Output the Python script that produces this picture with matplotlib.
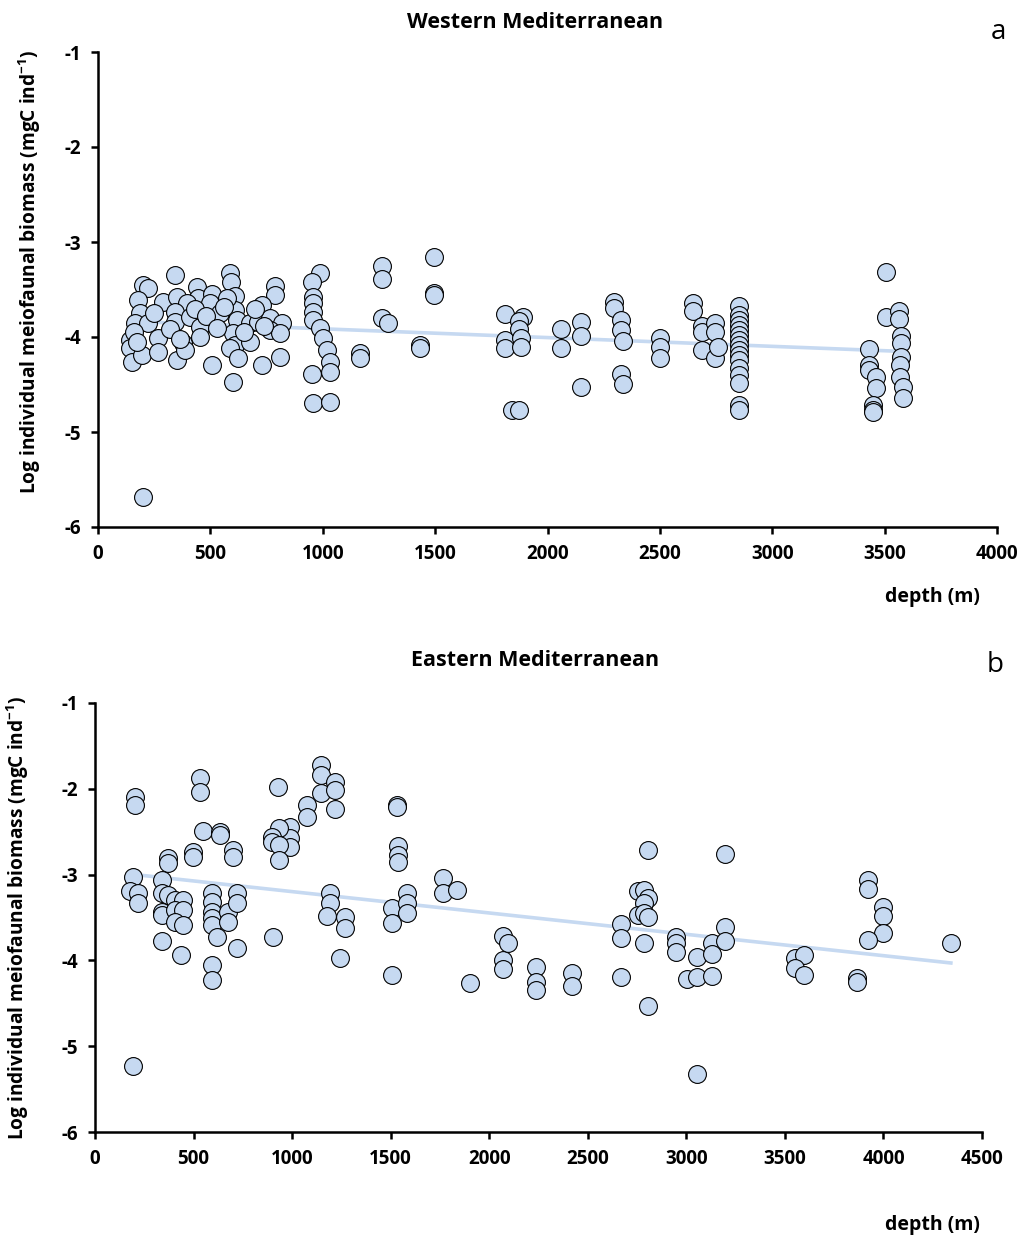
import matplotlib
matplotlib.use("Agg")
import matplotlib.pyplot as plt
import numpy as np

plt.rcParams['font.family'] = ['Open Sans', 'DejaVu Sans']
plt.rcParams['font.weight'] = 'bold'
plt.rcParams['axes.unicode_minus'] = False
plt.rcParams['mathtext.fontset'] = 'custom'
plt.rcParams['mathtext.bf'] = 'Open Sans:bold'
plt.rcParams['mathtext.rm'] = 'Open Sans:bold'
plt.rcParams['mathtext.default'] = 'bf'

# Western Mediterranean (panel a)
west_depth = [200, 223, 343, 588, 592, 989, 953, 1265, 1265, 1497, 1497, 1497,
              178, 290, 352, 441, 445, 508, 499, 610, 610, 788, 788, 730, 575, 396,
              343, 187, 165, 223, 343, 410, 454, 543, 619, 677, 713, 766, 820, 766, 811,
              958, 958, 958, 958, 989, 1002, 1020, 1033, 1033, 953, 958, 1033,
              1265, 1292, 1434, 1434, 1167, 1167,
              143, 143, 151, 196, 267, 267, 352, 379, 387, 454, 508, 601, 610, 588, 624,
              677, 730, 811, 601, 200,
              1813, 1813, 1813, 1889, 1875, 1875, 1880, 1880, 1840, 1875,
              2062, 2062, 2147, 2147, 2147, 2298, 2298, 2325, 2325, 2338, 2325, 2338,
              2499, 2499, 2499, 2646, 2646, 2686, 2686, 2686, 2744, 2744, 2744, 2757,
              2850, 2850, 2850, 2850, 2850, 2850, 2850, 2850, 2850, 2850, 2850, 2850,
              2850, 2850, 2850, 2850,
              3430, 3430, 3430, 3461, 3461, 3447, 3447, 3447, 3505, 3505,
              3563, 3563, 3572, 3572, 3572, 3568, 3568, 3581, 3581,
              160, 175, 250, 320, 365, 430, 480, 530, 560, 650, 700, 740]
west_logb = [-3.45, -3.48, -3.35, -3.33, -3.42, -3.33, -3.42, -3.25, -3.39, -3.16, -3.54, -3.56,
             -3.61, -3.63, -3.58, -3.47, -3.59, -3.55, -3.64, -3.57, -3.72, -3.46, -3.56, -3.66, -3.59, -3.64,
             -3.74, -3.75, -3.85, -3.85, -3.84, -3.79, -3.89, -3.75, -3.82, -3.85, -3.84, -3.80, -3.85, -3.93, -3.96,
             -3.58, -3.64, -3.74, -3.82, -3.91, -4.01, -4.14, -4.26, -4.37, -4.39, -4.69, -4.68,
             -3.80, -3.85, -4.08, -4.12, -4.17, -4.22,
             -4.03, -4.12, -4.26, -4.19, -4.01, -4.16, -4.24, -4.06, -4.14, -4.00, -4.29, -3.96, -4.08, -4.12, -4.22,
             -4.05, -4.29, -4.21, -4.47, -5.68,
             -3.76, -4.03, -4.12, -3.79, -3.83, -3.92, -4.01, -4.11, -4.77, -4.77,
             -3.92, -4.12, -3.84, -3.99, -4.53, -3.63, -3.69, -3.82, -3.93, -4.04, -4.39, -4.49,
             -4.01, -4.11, -4.22, -3.64, -3.73, -3.88, -3.95, -4.14, -3.85, -3.95, -4.22, -4.11,
             -3.67, -3.77, -3.82, -3.87, -3.93, -3.98, -4.03, -4.08, -4.14, -4.19, -4.24, -4.33,
             -4.40, -4.48, -4.72, -4.77,
             -4.13, -4.29, -4.35, -4.42, -4.54, -4.72, -4.77, -4.79, -3.32, -3.79,
             -3.73, -3.81, -3.99, -4.06, -4.21, -4.29, -4.42, -4.53, -4.64,
             -3.95, -4.05, -3.75, -3.92, -4.02, -3.70, -3.78, -3.90, -3.68, -3.95, -3.70, -3.88]
west_trend_x = [200, 3560]
west_trend_y = [-3.84, -4.15]

# Eastern Mediterranean (panel b)
east_depth = [203, 203, 533, 533, 928, 1147, 1147, 1147, 1218, 1218, 1218, 1075, 1075,
              989, 989, 989, 933, 898, 898, 933, 933, 548, 634, 634, 497, 497, 370, 370,
              700, 700, 1532, 1532, 1537, 1537, 1537,
              193, 178, 218, 218, 340, 340, 370, 406, 446, 340, 340, 406, 446, 406, 446,
              340, 436, 594, 594, 594, 594, 594, 619, 675, 675, 720, 720, 720, 594, 594,
              903, 1192, 1192, 1177, 1268, 1268, 1243, 1507, 1507, 1583, 1583, 1583, 1507,
              1765, 1765, 1836, 1902, 2070, 2070, 2070,
              2095, 2237, 2237, 2237, 2420, 2420, 2668, 2668, 2668, 2785, 2806, 2806,
              2755, 2785, 2806, 2785, 2755, 2785, 2806, 2947, 2947, 2947, 3054, 3003, 3054,
              3130, 3130, 3130, 3196, 3196, 3196, 3551, 3597, 3551, 3597, 3866, 3866,
              3921, 3921, 3998, 3998, 3998, 3921, 4342, 193, 3054]
east_logb = [-2.10, -2.19, -1.87, -2.04, -1.98, -1.72, -1.84, -2.05, -1.92, -2.01, -2.24, -2.19, -2.33,
             -2.45, -2.57, -2.68, -2.46, -2.56, -2.62, -2.65, -2.83, -2.49, -2.50, -2.54, -2.74, -2.79, -2.81, -2.86,
             -2.71, -2.79, -2.19, -2.21, -2.67, -2.77, -2.85,
             -3.03, -3.19, -3.21, -3.33, -3.06, -3.21, -3.24, -3.30, -3.30, -3.44, -3.47, -3.41, -3.41, -3.55, -3.59,
             -3.77, -3.94, -3.21, -3.32, -3.44, -3.51, -3.59, -3.73, -3.44, -3.55, -3.21, -3.33, -3.86, -4.05, -4.23,
             -3.73, -3.21, -3.33, -3.48, -3.49, -3.62, -3.97, -3.39, -3.56, -3.21, -3.33, -3.45, -4.17,
             -3.04, -3.21, -3.18, -4.26, -3.72, -4.00, -4.10,
             -3.80, -4.08, -4.25, -4.34, -4.15, -4.30, -3.58, -3.74, -4.19, -3.80, -2.71, -4.53,
             -3.19, -3.18, -3.27, -3.33, -3.47, -3.45, -3.49, -3.73, -3.80, -3.90, -3.96, -4.22, -4.19,
             -3.80, -3.93, -4.18, -2.76, -3.61, -3.77, -3.97, -3.94, -4.09, -4.17, -4.21, -4.25,
             -3.06, -3.17, -3.38, -3.48, -3.68, -3.76, -3.80, -5.23, -5.32]
east_trend_x = [203, 4342]
east_trend_y = [-3.00, -4.03]

fill = '#c6d9f1'

fig = plt.figure(figsize=(10.25, 12.43), dpi=100)
ax1 = fig.add_axes([98/1025, 1-527/1243, 899/1025, 475/1243])
ax2 = fig.add_axes([95/1025, 1-1132/1243, 887/1025, 429/1243])

def style(ax, xmax):
    ax.set_xlim(0, xmax)
    ax.set_ylim(-6, -1)
    ax.set_xticks(np.arange(0, xmax + 1, 500))
    ax.set_yticks(np.arange(-6, 0, 1))
    for s in ['top', 'right']:
        ax.spines[s].set_visible(False)
    for s in ['left', 'bottom']:
        ax.spines[s].set_linewidth(1.8)
    ax.tick_params(width=1.8, length=5, direction='out', labelsize=13.5, pad=7)

ax1.plot(west_trend_x, west_trend_y, color=fill, lw=2.6, zorder=1)
ax1.scatter(west_depth, west_logb, s=165, facecolor=fill, edgecolor='black', linewidth=0.8, zorder=2, clip_on=False)
style(ax1, 4000)

ax2.plot(east_trend_x, east_trend_y, color=fill, lw=2.6, zorder=1)
ax2.scatter(east_depth, east_logb, s=165, facecolor=fill, edgecolor='black', linewidth=0.8, zorder=2, clip_on=False)
style(ax2, 4500)

ylab = r"Log individual meiofaunal biomass (mgC ind$^{-1}$)"
fig.text(30/1025, 1-272/1243, ylab, rotation=90, ha='center', va='center', fontsize=13.8)
fig.text(18/1025, 1-918/1243, ylab, rotation=90, ha='center', va='center', fontsize=13.8)

fig.text(535/1025, 1-22/1243, "Western Mediterranean", ha='center', va='center', fontsize=15.5)
fig.text(535/1025, 1-660/1243, "Eastern Mediterranean", ha='center', va='center', fontsize=15.5)
fig.text(998/1025, 1-32/1243, "a", ha='center', va='center', fontsize=20, fontweight='normal')
fig.text(995/1025, 1-665/1243, "b", ha='center', va='center', fontsize=20, fontweight='normal')
fig.text(932/1025, 1-597/1243, "depth (m)", ha='center', va='center', fontsize=14)
fig.text(932/1025, 1-1225/1243, "depth (m)", ha='center', va='center', fontsize=14)

fig.savefig("out.png", dpi=100, facecolor='white')
